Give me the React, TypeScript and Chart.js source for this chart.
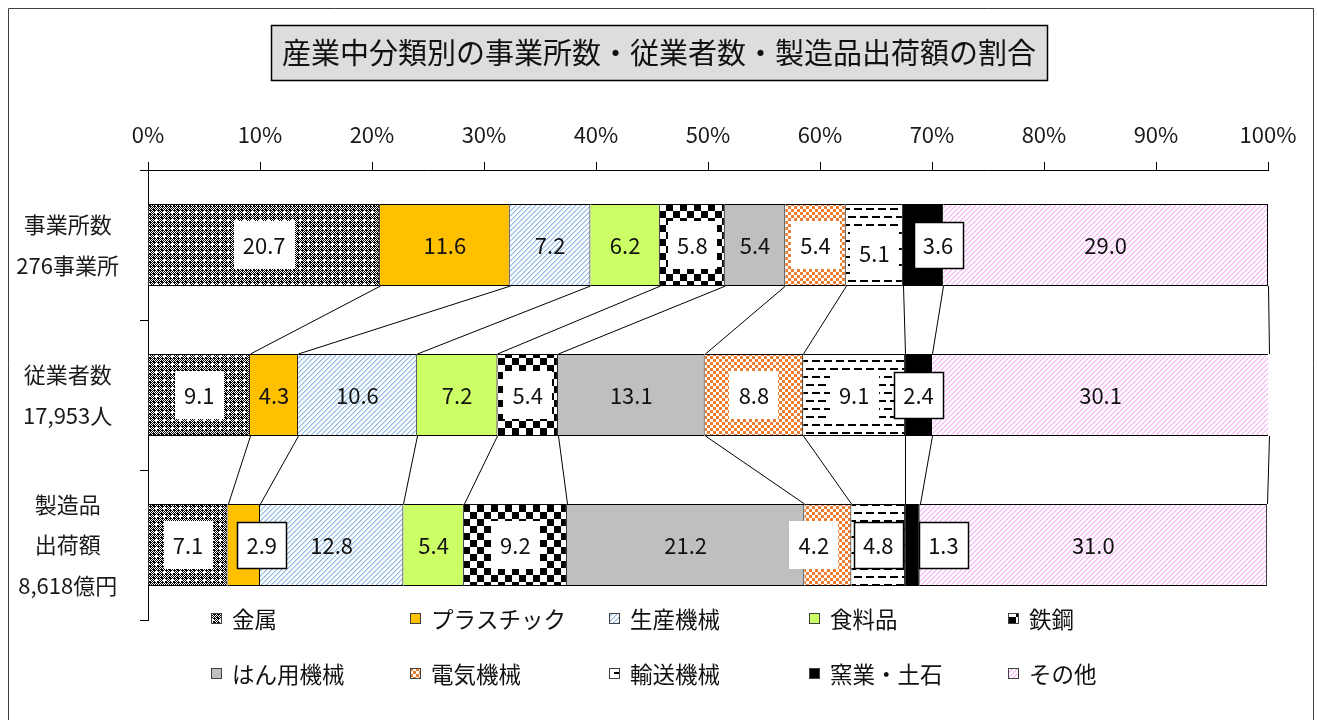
import React, { useEffect, useRef } from "react";
import { Chart, registerables } from "chart.js";

Chart.register(...registerables);

const FONT = '"Noto Sans CJK JP", "Noto Sans", sans-serif';

// ---------- data ----------
const TITLE = "産業中分類別の事業所数・従業者数・製造品出荷額の割合";
const categories = [
  ["事業所数", "276事業所"],
  ["従業者数", "17,953人"],
  ["製造品", "出荷額", "8,618億円"],
];
const seriesNames = [
  "金属",
  "プラスチック",
  "生産機械",
  "食料品",
  "鉄鋼",
  "はん用機械",
  "電気機械",
  "輸送機械",
  "窯業・土石",
  "その他",
];
const kinzoku = [20.7, 9.1, 7.1];
const plastic = [11.6, 4.3, 2.9];
const seisanKikai = [7.2, 10.6, 12.8];
const shokuryohin = [6.2, 7.2, 5.4];
const tekko = [5.8, 5.4, 9.2];
const hanyoKikai = [5.4, 13.1, 21.2];
const denkiKikai = [5.4, 8.8, 4.2];
const yusoKikai = [5.1, 9.1, 4.8];
const yogyo = [3.6, 2.4, 1.3];
const sonota = [29.0, 30.1, 31.0];
const xTickValues = [0, 10, 20, 30, 40, 50, 60, 70, 80, 90, 100];

const seriesValues = [
  kinzoku,
  plastic,
  seisanKikai,
  shokuryohin,
  tekko,
  hanyoKikai,
  denkiKikai,
  yusoKikai,
  yogyo,
  sonota,
];

// ---------- label styling ----------
const WHITE_BG_SERIES = [0, 4, 6, 7];
const BOXED_LABELS = ["8-0", "8-1", "8-2", "1-2", "7-2"];
const LABEL_SHIFT: Record<string, [number, number]> = {
  "8-0": [15, 0],
  "1-2": [18, 0],
  "8-2": [31, 0],
  "6-2": [-14, 0],
  "7-0": [0, 8],
};

function tile(w: number, h: number, draw: (g: CanvasRenderingContext2D) => void) {
  const c = document.createElement("canvas");
  c.width = w;
  c.height = h;
  const g = c.getContext("2d")!;
  draw(g);
  return c;
}

function makeFills(ctx: CanvasRenderingContext2D): (string | CanvasPattern)[] {
  const px = (g: CanvasRenderingContext2D, x: number, y: number, c: string) => {
    g.fillStyle = c;
    g.fillRect(x, y, 1, 1);
  };
  const pat = (c: HTMLCanvasElement) => ctx.createPattern(c, "repeat")!;
  const metal = tile(8, 8, (g) => {
    g.fillStyle = "#000";
    g.fillRect(0, 0, 8, 8);
    for (let y = 0; y < 8; y++)
      for (let x = 0; x < 8; x++) if ((x + y) % 2 === 0 && !(x % 4 === 2 && y % 4 === 2)) px(g, x, y, "#fff");
    for (let y = 0; y < 8; y += 4)
      for (let x = 0; x < 8; x += 4) if ((x + y) % 8 === 0) px(g, x + 1, y + 1, "#000");
    g.fillStyle = "#fff";
    g.fillRect(3, 4, 3, 1);
    g.fillRect(4, 3, 1, 3);
  });
  const hatch = (c1: string, c2: string) =>
    tile(5, 5, (g) => {
      g.fillStyle = "#fff";
      g.fillRect(0, 0, 5, 5);
      for (let i = 0; i < 5; i++) {
        px(g, i, 4 - i, c1);
        px(g, (i + 1) % 5, 4 - i, c2);
      }
    });
  const checker = tile(14, 14, (g) => {
    g.fillStyle = "#fff";
    g.fillRect(0, 0, 14, 14);
    g.fillStyle = "#000";
    g.fillRect(0, 0, 7, 7);
    g.fillRect(7, 7, 7, 7);
  });
  const orange = tile(6, 6, (g) => {
    g.fillStyle = "#fff";
    g.fillRect(0, 0, 6, 6);
    g.fillStyle = "#ED7D31";
    g.fillRect(0, 0, 3, 3);
    g.fillRect(3, 3, 3, 3);
  });
  const dashes = tile(12, 16, (g) => {
    g.fillStyle = "#fff";
    g.fillRect(0, 0, 12, 16);
    g.fillStyle = "#000";
    g.fillRect(0, 0, 8, 2);
    g.fillRect(6, 8, 6, 2);
    g.fillRect(0, 8, 2, 2);
  });
  return [
    pat(metal),
    "#FFC000",
    pat(hatch("#8DB8E6", "#C5DCF3")),
    "#CCFF66",
    pat(checker),
    "#BFBFBF",
    pat(orange),
    pat(dashes),
    "#000000",
    pat(hatch("#F6B0F6", "#FBD8FB")),
  ];
}

export default function App() {
  const ref = useRef<HTMLCanvasElement | null>(null);

  useEffect(() => {
    document.documentElement.style.overflow = "hidden";
    document.body.style.overflow = "hidden";
    const canvas = ref.current!;
    const ctx = canvas.getContext("2d")!;
    const fills = makeFills(ctx);

    const decorPlugin = {
      id: "decor",
      afterDatasetsDraw(chart: any) {
        const c = chart.ctx as CanvasRenderingContext2D;
        const metas = chart.data.datasets.map((_: any, i: number) => chart.getDatasetMeta(i));
        // series lines between bars
        c.save();
        c.strokeStyle = "#000";
        c.lineWidth = 1;
        for (let di = 0; di < metas.length; di++) {
          const els = metas[di].data;
          for (let r = 0; r < els.length - 1; r++) {
            const a = els[r].getProps(["x", "y", "height"], true);
            const b = els[r + 1].getProps(["x", "y", "height"], true);
            c.beginPath();
            c.moveTo(Math.round(a.x) + 0.5, a.y + a.height / 2);
            c.lineTo(Math.round(b.x) + 0.5, b.y - b.height / 2);
            c.stroke();
          }
        }
        c.restore();

        // data labels
        c.save();
        c.font = `22px ${FONT}`;
        c.textAlign = "center";
        c.textBaseline = "middle";
        chart.data.datasets.forEach((ds: any, di: number) => {
          metas[di].data.forEach((el: any, ri: number) => {
            const { x, y, base } = el.getProps(["x", "y", "base"], true);
            const text = Number(ds.data[ri]).toFixed(1);
            const key = `${di}-${ri}`;
            const sh = LABEL_SHIFT[key] || [0, 0];
            const cx = (x + base) / 2 + sh[0];
            const cy = y + sh[1];
            const tw = c.measureText(text).width;
            const boxed = BOXED_LABELS.includes(key);
            if (boxed || WHITE_BG_SERIES.includes(di)) {
              const w = Math.round(tw + 18);
              const h = boxed ? 46 : 48;
              const bx = Math.round(cx - w / 2);
              const by = Math.round(cy - h / 2);
              c.fillStyle = "#fff";
              c.fillRect(bx, by, w, h);
              if (boxed) {
                c.strokeStyle = "#000";
                c.lineWidth = 1.5;
                c.strokeRect(bx + 0.5, by + 0.5, w, h);
              }
            }
            c.fillStyle = "#111";
            c.fillText(text, cx, cy + 1);
          });
        });
        c.restore();
      },
      afterDraw(chart: any) {
        const c = chart.ctx as CanvasRenderingContext2D;
        c.save();
        // title
        c.font = `29px ${FONT}`;
        const tw = c.measureText(TITLE).width;
        const cx = chart.width / 2 - 2;
        const bw = Math.round(tw + 22);
        const bx = Math.round(cx - bw / 2);
        c.fillStyle = "#DDDDDD";
        c.fillRect(bx, 17, bw, 55);
        c.strokeStyle = "#000";
        c.lineWidth = 1.5;
        c.strokeRect(bx + 0.5, 17.5, bw, 55);
        c.fillStyle = "#111";
        c.textAlign = "center";
        c.textBaseline = "middle";
        c.fillText(TITLE, cx, 45);

        // legend
        const left = chart.chartArea.left;
        c.font = `22.5px ${FONT}`;
        c.textAlign = "left";
        seriesNames.forEach((name, i) => {
          const col = i % 5;
          const row = Math.floor(i / 5);
          const x = left + 63 + col * 199.2;
          const y = chart.chartArea.bottom - 2 + row * 55;
          const xx = Math.round(x);
          const yy = Math.round(y - 5.5);
          c.fillStyle = fills[i] as any;
          c.fillRect(xx, yy, 11, 11);
          c.strokeStyle = "#404040";
          c.lineWidth = 1;
          c.strokeRect(xx + 0.5, yy + 0.5, 10, 10);
          c.fillStyle = "#111";
          c.fillText(name, xx + 21, y + 1);
        });

        // outer frame (left, top, right)
        c.strokeStyle = "#404040";
        c.lineWidth = 1;
        c.beginPath();
        c.moveTo(0.5, chart.height);
        c.lineTo(0.5, 0.5);
        c.lineTo(chart.width - 0.5, 0.5);
        c.lineTo(chart.width - 0.5, chart.height);
        c.stroke();
        c.restore();
      },
    };

    const chart = new Chart(ctx, {
      type: "bar",
      data: {
        labels: categories as any,
        datasets: seriesValues.map((vals, i) => ({
          label: seriesNames[i],
          data: vals,
          backgroundColor: fills[i] as any,
          borderColor: "#000",
          borderWidth: 1,
          categoryPercentage: 1,
          barPercentage: 0.547,
        })),
      },
      options: {
        indexAxis: "y",
        animation: false,
        responsive: true,
        maintainAspectRatio: false,
        layout: { padding: { top: 81, right: 46, bottom: 100, left: 1 } },
        plugins: {
          legend: { display: false },
          title: { display: false },
          tooltip: { enabled: false },
        },
        scales: {
          x: {
            type: "linear",
            position: "top",
            stacked: true,
            min: 0,
            max: 100,
            afterBuildTicks: (s: any) => {
              s.ticks = xTickValues.map((v) => ({ value: v }));
            },
            afterFit: (s: any) => {
              s.height = 81;
            },
            ticks: {
              callback: (v: any) => `${v}%`,
              font: { family: FONT, size: 22 },
              color: "#1a1a1a",
              padding: 14,
              maxRotation: 0,
            },
            grid: { drawOnChartArea: false, drawTicks: true, tickLength: 8, color: "#000" },
            border: { color: "#000", width: 1 },
          },
          y: {
            type: "category",
            stacked: true,
            afterFit: (s: any) => {
              s.width = 139;
            },
            ticks: {
              crossAlign: "center",
              padding: 21,
              font: { family: FONT, size: 22, lineHeight: 1.85 },
              color: "#1a1a1a",
            },
            grid: { offset: true, drawOnChartArea: false, drawTicks: true, tickLength: 8, color: "#000" },
            border: { color: "#000", width: 1 },
          },
        },
      },
      plugins: [decorPlugin],
    } as any);

    return () => chart.destroy();
  }, []);

  return (
    <div
      style={{
        position: "absolute",
        left: 8,
        top: 8,
        width: 1306,
        height: 712,
        background: "#fff",
      }}
    >
      <canvas ref={ref} />
    </div>
  );
}
